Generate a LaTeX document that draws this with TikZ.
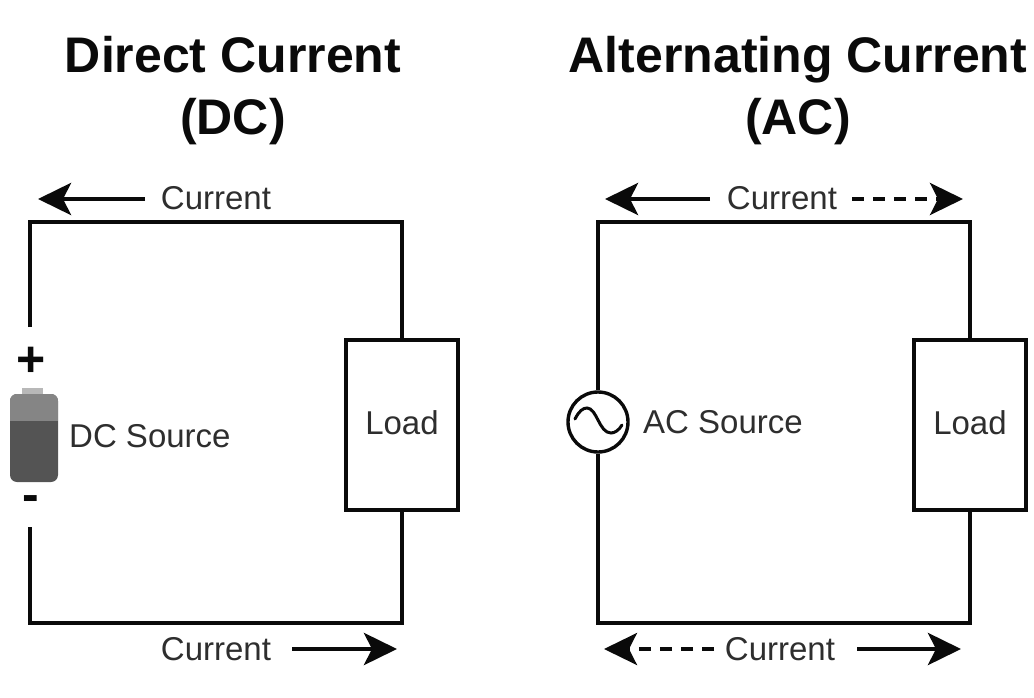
\documentclass[tikz,border=0pt]{standalone}
\usepackage{fontspec}
\setmainfont{Liberation Sans}
\usetikzlibrary{arrows.meta}
\definecolor{ink}{HTML}{0A0A0A}
\definecolor{label}{HTML}{2E2E2E}
\tikzset{
  x=1pt,y=-1pt,
  wire/.style={draw=ink,line width=3.4pt,line cap=butt,line join=miter},
  flow/.style={draw=ink,line width=4.8pt,line cap=butt,-{Stealth[length=33pt,width=32pt,inset=8pt]}},
  flowdash/.style={flow,line width=3.6pt,dash pattern=on 12pt off 9pt},
  txt/.style={inner sep=0pt,text=label,font=\fontsize{33}{33}\selectfont,text height=24pt,text depth=0pt},
  title/.style={inner sep=0pt,text=ink,font=\fontsize{50}{50}\selectfont\bfseries,text height=36pt,text depth=0pt},
  sign/.style={inner sep=0pt,text=ink,font=\fontsize{50}{50}\selectfont\bfseries},
  loadbox/.style={wire,fill=white,minimum width=112pt,minimum height=170pt,inner sep=0pt,text=label,text depth=4pt,font=\fontsize{33}{33}\selectfont},
  acsrc/.style={wire,fill=white,circle,minimum size=60pt,inner sep=0pt},
}
\begin{document}
\begin{tikzpicture}
\useasboundingbox (0,0) rectangle (1034,698);
% titles
\node[title] (t1) at (233,55) {Direct Current};
\node[title] (t2) at (233,117) {(DC)};
\node[title] (t3) at (798,55) {Alternating Current};
\node[title] (t4) at (798,117) {(AC)};
% DC circuit
\coordinate (dtl) at (30,222);
\coordinate (dtr) at (402,222);
\coordinate (dbl) at (30,623);
\coordinate (dbr) at (402,623);
\coordinate (dup) at (30,327);
\coordinate (ddn) at (30,527);
\node[loadbox] (dload) at (402,425) {Load};
\draw[wire] (dup) -- (dtl) -- (dtr) -- (dload.north);
\draw[wire] (ddn) -- (dbl) -- (dbr) -- (dload.south);
% battery
\fill[fill=black!28] (22,388) rectangle (43,396);
\fill[fill=black!67,rounded corners=7pt] (10,394) rectangle (58,482);
\begin{scope}
\clip[rounded corners=7pt] (10,394) rectangle (58,482);
\fill[black!48] (10,394) rectangle (58,421);
\end{scope}
\node[sign] (plus) at (31,362) {+};
\node[sign] (minus) at (31,504) {-};
\node[txt,anchor=west] (dcs) at (69,435.5) {DC Source};
% DC current
\node[txt] (c1) at (216,198) {Current};
\node[txt] (c2) at (216,648) {Current};
\coordinate (a1s) at (145,199); \coordinate (a1e) at (38,199);
\coordinate (a2s) at (292,649); \coordinate (a2e) at (397,649);
\draw[flow] (a1s) -- (a1e);
\draw[flow] (a2s) -- (a2e);
% AC circuit
\coordinate (atl) at (598,222);
\coordinate (atr) at (970,222);
\coordinate (abl) at (598,623);
\coordinate (abr) at (970,623);
\node[loadbox] (aload) at (970,425) {Load};
\node[acsrc] (src) at (598,422) {};
\draw[wire] (src.north) -- (atl) -- (atr) -- (aload.north);
\draw[wire] (src.south) -- (abl) -- (abr) -- (aload.south);
\draw[draw=ink,line width=3pt,line cap=round] (575,419) .. controls (579,411) and (583,408) .. (587,408) .. controls (597,408) and (599,433) .. (611,433) .. controls (615,433) and (619,430) .. (622,425);
\node[txt,anchor=west] (acs) at (643,421.5) {AC Source};
% AC current
\node[txt] (c3) at (782,198) {Current};
\node[txt] (c4) at (780,648) {Current};
\coordinate (a3s) at (710,199); \coordinate (a3e) at (605,199);
\coordinate (a4s) at (852,199); \coordinate (a4e) at (963,199);
\coordinate (a5s) at (714,649); \coordinate (a5e) at (604,649);
\coordinate (a6s) at (857,649); \coordinate (a6e) at (961,649);
\draw[flow] (a3s) -- (a3e);
\draw[flowdash] (a4s) -- (a4e);
\draw[flowdash] (a5s) -- (a5e);
\draw[flow] (a6s) -- (a6e);
\end{tikzpicture}
\end{document}
